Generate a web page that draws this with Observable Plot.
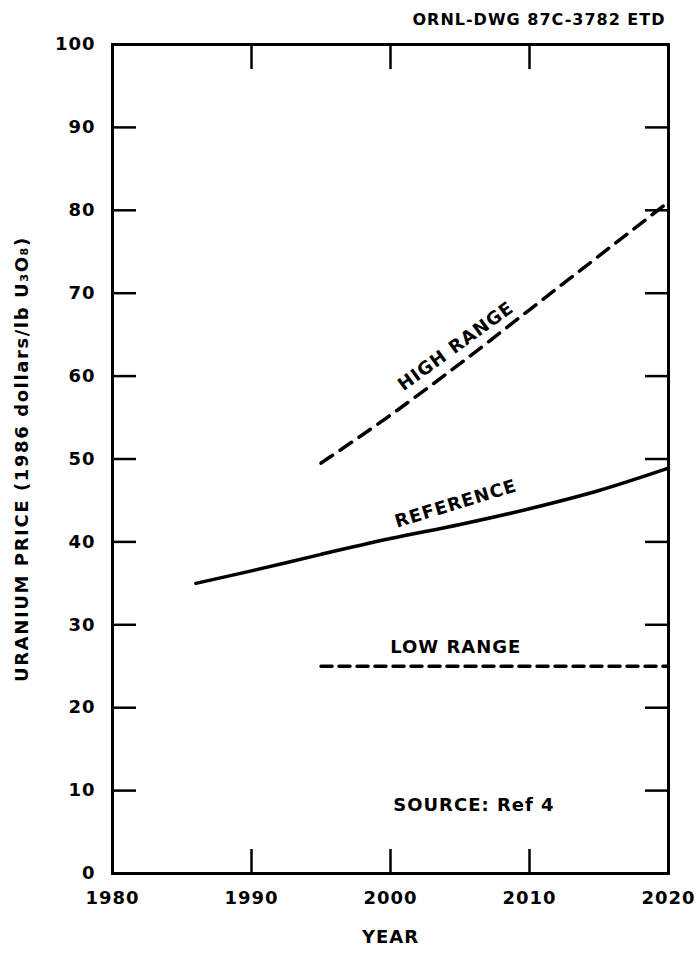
<!DOCTYPE html>
<html>
<head>
<meta charset="utf-8">
<script src="https://cdn.jsdelivr.net/npm/d3@7"></script>
<script src="https://cdn.jsdelivr.net/npm/@observablehq/plot@0.6"></script>
<style>
  html, body { margin: 0; padding: 0; background: #fff; }
  svg { font-family: "DejaVu Sans", sans-serif; font-weight: bold; }
</style>
</head>
<body>
<div id="chart"></div>
<script>
// ---- data ----
const refYears   = [1986, 1990, 1995, 2000, 2005, 2010, 2015, 2020];
const refPrice   = [35.0, 36.5, 38.5, 40.4, 42.1, 44.0, 46.2, 48.9];
const highYears  = [1995, 2000, 2005, 2010, 2015, 2020];
const highPrice  = [49.5, 55.3, 61.5, 68.0, 74.5, 81.0];
const lowYears   = [1995, 2020];
const lowPrice   = [25, 25];

const xTickLabels = [1980, 1990, 2000, 2010, 2020];
const xTickMarks  = [1990, 2000, 2010];
const yTickLabels = [0, 10, 20, 30, 40, 50, 60, 70, 80, 90, 100];
const yTickMarks  = [10, 20, 30, 40, 50, 60, 70, 80, 90];

const labelText   = ["HIGH RANGE", "REFERENCE", "LOW RANGE", "SOURCE: Ref 4"];
const labelYear   = [2004.7, 2004.7, 2004.7, 2006.0];
const labelPrice  = [63.6, 44.6, 27.3, 8.2];
const labelRotate = [-36, -17, 0, 0];

const titleText = "ORNL-DWG 87C-3782 ETD";
const yAxisText = "URANIUM PRICE (1986 dollars/lb U\u2083O\u2088)";
const xAxisText = "YEAR";

// ---- build tables ----
const refData  = refYears.map((y, i) => ({year: y, price: refPrice[i]}));
const highData = highYears.map((y, i) => ({year: y, price: highPrice[i]}));
const lowData  = lowYears.map((y, i) => ({year: y, price: lowPrice[i]}));
const labels   = labelText.map((t, i) => ({text: t, year: labelYear[i], price: labelPrice[i], rotate: labelRotate[i]}));

const chart = Plot.plot({
  width: 697,
  height: 953,
  marginLeft: 112,
  marginRight: 29,
  marginTop: 44,
  marginBottom: 80,
  style: {fontFamily: "DejaVu Sans, sans-serif", fontWeight: "bold", background: "#fff", color: "#000"},
  x: {domain: [1980, 2020]},
  y: {domain: [0, 100]},
  marks: [
    // tick labels
    Plot.axisX({anchor: "bottom", ticks: xTickLabels, tickSize: 0, tickPadding: 18, tickFormat: d => String(d), fontSize: 18, label: null, fontWeight: "bold"}),
    Plot.axisY({anchor: "left", ticks: yTickLabels, tickSize: 0, tickPadding: 17, tickFormat: d => String(d), fontSize: 18, label: null, fontWeight: "bold"}),
    // inward tick marks
    Plot.axisX({anchor: "bottom", ticks: xTickMarks, tickSize: -24, strokeWidth: 2.5, text: null, label: null}),
    Plot.axisX({anchor: "top", ticks: xTickMarks, tickSize: -24, strokeWidth: 2.5, text: null, label: null}),
    Plot.axisY({anchor: "left", ticks: yTickMarks, tickSize: -24, strokeWidth: 2.5, text: null, label: null}),
    Plot.axisY({anchor: "right", ticks: yTickMarks, tickSize: -24, strokeWidth: 2.5, text: null, label: null}),
    Plot.frame({stroke: "#000", strokeWidth: 3}),
    // series
    Plot.line(refData, {x: "year", y: "price", stroke: "#000", strokeWidth: 3.5, curve: "monotone-x"}),
    Plot.line(highData, {x: "year", y: "price", stroke: "#000", strokeWidth: 3.5, strokeDasharray: "14 9", curve: "monotone-x"}),
    Plot.line(lowData, {x: "year", y: "price", stroke: "#000", strokeWidth: 3.5, strokeDasharray: "11 7"}),
    // annotations
    Plot.text(labels, {x: "year", y: "price", text: "text", rotate: "rotate", fontSize: 18, fontWeight: "bold", fill: "#000", textAnchor: "middle"}),
    Plot.text([titleText], {frameAnchor: "top-right", dy: -31, dx: -3, textAnchor: "end", fontSize: 16, fontWeight: "bold", fill: "#000"}),
    Plot.text([yAxisText], {frameAnchor: "left", dx: -90, rotate: -90, textAnchor: "middle", fontSize: 18, fontWeight: "bold", fill: "#000"}),
    Plot.text([xAxisText], {frameAnchor: "bottom", dy: 69, fontSize: 18, fontWeight: "bold", fill: "#000"})
  ]
});
// letter spacing for the bold text to mimic the wide original lettering
chart.querySelectorAll("text").forEach(t => t.setAttribute("letter-spacing", "1"));
chart.querySelectorAll("text").forEach(t => { if (t.textContent === yAxisText) t.setAttribute("letter-spacing", "1.6"); });
document.getElementById("chart").appendChild(chart);
</script>
</body>
</html>
